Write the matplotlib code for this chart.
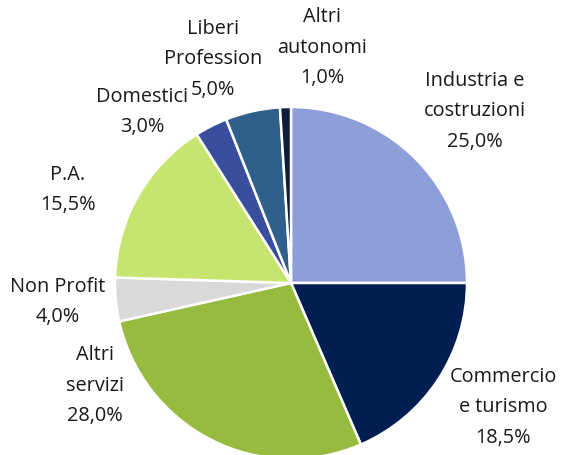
import matplotlib.pyplot as plt

labels = ['Industria e\ncostruzioni', 'Commercio\ne turismo', 'Altri\nservizi',
          'Non Profit', 'P.A.', 'Domestici', 'Liberi\nProfession', 'Altri\nautonomi']
values = [25.0, 18.5, 28.0, 4.0, 15.5, 3.0, 5.0, 1.0]
colors = ['#8E9ED8', '#001E50', '#97BB3E', '#D9D9D9', '#C6E56E', '#3A4E9E', '#2F5F8A', '#0C1C3A']

# label centres in pixels (x, y from top)
label_pos = [(475, 111), (503, 407), (95, 386), (58, 302), (68, 190),
             (142, 112), (213, 59), (322, 48)]

W, H = 561, 455
cx, cy, r = 291, 283, 176

plt.rcParams['font.family'] = ['Open Sans', 'DejaVu Sans']
fig = plt.figure(figsize=(W / 100, H / 100), dpi=100)
ax = fig.add_axes([(cx - r) / W, (H - cy - r) / H, 2 * r / W, 2 * r / H])
ax.pie(values, colors=colors, startangle=90, counterclock=False, radius=1,
       wedgeprops=dict(edgecolor='white', linewidth=1.8))
ax.set_xlim(-1, 1)
ax.set_ylim(-1, 1)
ax.set_aspect('equal')
ax.axis('off')
for w in ax.patches:
    w.set_clip_on(False)

for lab, v, (x, y) in zip(labels, values, label_pos):
    pct = f'{v:.1f}%'.replace('.', ',')
    fig.text(x / W, 1 - y / H, f'{lab}\n{pct}', ha='center', va='center',
             fontsize=14.3, color='#1a1a1a', linespacing=1.7)

fig.savefig('out.png', dpi=100)
